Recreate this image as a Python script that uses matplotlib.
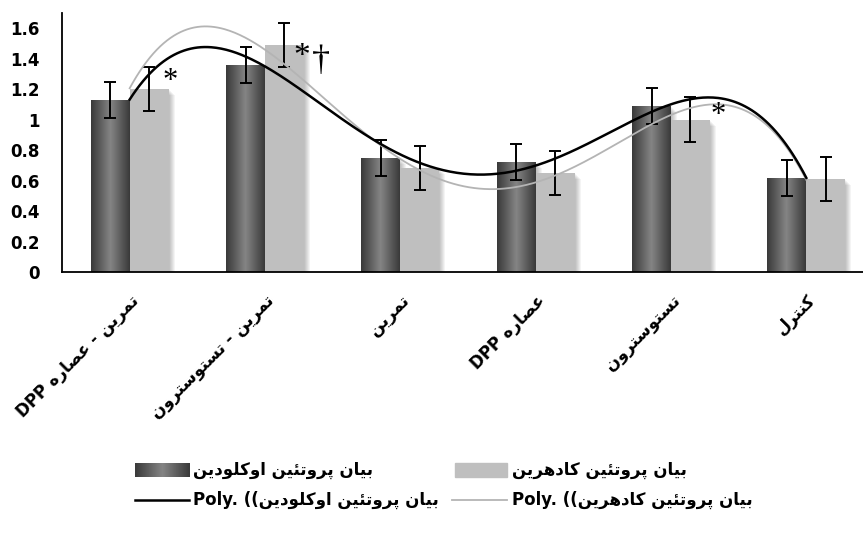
import re
import numpy as np
import matplotlib
matplotlib.use("Agg")
import matplotlib.pyplot as plt
from matplotlib.patches import Rectangle
from matplotlib.colors import LinearSegmentedColormap

# chart data
categories = ["تمرین - عصاره DPP", "تمرین - تستوسترون", "تمرین",
              "عصاره DPP", "تستوسترون", "کنترل"]
occludin = [1.13, 1.36, 0.75, 0.72, 1.09, 0.62]
occludin_err = [0.118, 0.118, 0.118, 0.118, 0.12, 0.118]
cadherin = [1.20, 1.49, 0.68, 0.65, 1.00, 0.61]
cadherin_err = [0.143, 0.145, 0.145, 0.145, 0.147, 0.144]
yticks = [0, 0.2, 0.4, 0.6, 0.8, 1.0, 1.2, 1.4, 1.6]
ytick_labels = ["0", "0.2", "0.4", "0.6", "0.8", "1", "1.2", "1.4", "1.6"]
name_occ = "بیان پروتئین اوکلودین"
name_cad = "بیان پروتئین کادهرین"

# --- minimal Persian shaping, matplotlib does no joining / bidi ---
# (isolated, final, initial, medial)
FORMS = {
    "\u0627": ("\uFE8D", "\uFE8E", None, None),
    "\u0628": ("\uFE8F", "\uFE90", "\uFE91", "\uFE92"),
    "\u067E": ("\uFB56", "\uFB57", "\uFB58", "\uFB59"),
    "\u062A": ("\uFE95", "\uFE96", "\uFE97", "\uFE98"),
    "\u062F": ("\uFEA9", "\uFEAA", None, None),
    "\u0631": ("\uFEAD", "\uFEAE", None, None),
    "\u0633": ("\uFEB1", "\uFEB2", "\uFEB3", "\uFEB4"),
    "\u0635": ("\uFEB9", "\uFEBA", "\uFEBB", "\uFEBC"),
    "\u0639": ("\uFEC9", "\uFECA", "\uFECB", "\uFECC"),
    "\u06A9": ("\uFB8E", "\uFB8F", "\uFB90", "\uFB91"),
    "\u0644": ("\uFEDD", "\uFEDE", "\uFEDF", "\uFEE0"),
    "\u0645": ("\uFEE1", "\uFEE2", "\uFEE3", "\uFEE4"),
    "\u0646": ("\uFEE5", "\uFEE6", "\uFEE7", "\uFEE8"),
    "\u0647": ("\uFEE9", "\uFEEA", "\uFEEB", "\uFEEC"),
    "\u0648": ("\uFEED", "\uFEEE", None, None),
    "\u06CC": ("\uFBFC", "\uFBFD", "\uFBFE", "\uFBFF"),
    "\u0626": ("\uFE89", "\uFE8A", "\uFE8B", "\uFE8C"),
}


def shape(s):
    out = []
    for i, ch in enumerate(s):
        if ch not in FORMS:
            out.append(ch)
            continue
        prev = s[i - 1] if i > 0 else ""
        nxt = s[i + 1] if i + 1 < len(s) else ""
        jp = prev in FORMS and FORMS[prev][2] is not None
        jn = FORMS[ch][2] is not None and nxt in FORMS
        iso, fin, ini, med = FORMS[ch]
        out.append(med if jp and jn else fin if jp else ini if jn else iso)
    return "".join(out)[::-1]


def rtl(s):
    runs = re.findall(r"[A-Za-z]+|[^A-Za-z]+", s)
    return "".join(r if r[0].isascii() and r[0].isalpha() else shape(r)
                   for r in reversed(runs))


plt.rcParams["font.family"] = ["DejaVu Sans"]
plt.rcParams["font.weight"] = "bold"

W, H = 863, 533
fig = plt.figure(figsize=(W / 100, H / 100), dpi=100)
ax = fig.add_axes([62 / W, 1 - 272 / H, 812 / W, 259 / H])

x = np.arange(len(categories))
bw = 0.288
dark_cmap = LinearSegmentedColormap.from_list("dk", ["#3a3a3a", "#858585", "#3a3a3a"])
grad = np.linspace(0, 1, 64).reshape(1, -1)

# soft shadows to the right of every bar
px_x, px_y = 1 / 135.3, 1 / 152.4
for xs0, vals in ((x - bw, occludin), (x, cadherin)):
    for l, h in zip(xs0, vals):
        for k in range(1, 7):
            ax.add_patch(Rectangle((l + k * px_x, 0), bw, h - k * px_y,
                                   color="black", alpha=0.045, lw=0, zorder=1))

bars_d = ax.bar(x - bw / 2, occludin, bw, color="#5a5a5a", zorder=2)
ax.bar(x + bw / 2, cadherin, bw, color="#bfbfbf", zorder=2)
for b in bars_d:
    l, h = b.get_x(), b.get_height()
    im = ax.imshow(grad, cmap=dark_cmap, extent=(l, l + bw, 0, h),
                   aspect="auto", zorder=2.5)
    im.set_clip_path(b)

ax.errorbar(x - bw / 2, occludin, yerr=occludin_err, fmt="none", ecolor="black",
            elinewidth=1.4, capsize=4, capthick=1.4, zorder=5)
ax.errorbar(x + bw / 2, cadherin, yerr=cadherin_err, fmt="none", ecolor="black",
            elinewidth=1.4, capsize=4, capthick=1.4, zorder=5)

# order-4 polynomial trendlines as in Excel
xs = np.linspace(x[0], x[-1], 400)
ax.plot(xs, np.polyval(np.polyfit(x, cadherin, 4), xs), color="#b4b4b4", lw=1.3, zorder=6)
ax.plot(xs, np.polyval(np.polyfit(x, occludin, 4), xs), color="black", lw=1.8, zorder=6)

star = dict(fontfamily="Liberation Serif", fontweight="normal", ha="center",
            va="center", zorder=7)
ax.text(0.30, 1.25, "*", fontsize=22, **star)
ax.text(1.27, 1.41, "*", fontsize=24, **star)
ax.text(1.415, 1.38, "\u2020", fontsize=26, **star)
ax.text(4.35, 1.03, "*", fontsize=22, **star)

ax.set_xlim(-0.5, 5.5)
ax.set_ylim(0, 1.7)
ax.set_yticks(yticks)
ax.set_yticklabels(ytick_labels, fontsize=12, fontweight="bold")
ax.set_xticks(x)
ax.set_xticklabels([rtl(c) for c in categories], rotation=45, ha="right",
                   va="top", rotation_mode="anchor", fontsize=12, fontweight="bold")
ax.tick_params(axis="y", length=0, pad=16)
ax.tick_params(axis="x", length=0, pad=14)
for s in ("top", "right"):
    ax.spines[s].set_visible(False)
for s in ("left", "bottom"):
    ax.spines[s].set_linewidth(1.3)
    ax.spines[s].set_color("black")

# legend, drawn by hand in figure pixels
def fx(px):
    return px / W


def fy(py):
    return 1 - py / H


r1, r2 = 470, 500
sw = fig.add_axes([fx(135), fy(r1 + 7), fx(54), 14 / H])
sw.imshow(grad, cmap=dark_cmap, aspect="auto")
sw.axis("off")
fig.patches.append(Rectangle((fx(455), fy(r1 + 7)), fx(52), 14 / H,
                             transform=fig.transFigure, color="#bfbfbf"))
fig.lines.append(plt.Line2D([fx(135), fx(189)], [fy(r2), fy(r2)],
                            transform=fig.transFigure, color="black", lw=1.8))
fig.lines.append(plt.Line2D([fx(452), fx(507)], [fy(r2), fy(r2)],
                            transform=fig.transFigure, color="#b4b4b4", lw=1.3))
lt = dict(fontsize=12, fontweight="bold", ha="left", va="center")
fig.text(fx(193), fy(r1), rtl(name_occ), **lt)
fig.text(fx(512), fy(r1), rtl(name_cad), **lt)
fig.text(fx(193), fy(r2), "Poly. ((" + shape(name_occ), **lt)
fig.text(fx(512), fy(r2), "Poly. ((" + shape(name_cad), **lt)

fig.savefig("out.png", dpi=100)
